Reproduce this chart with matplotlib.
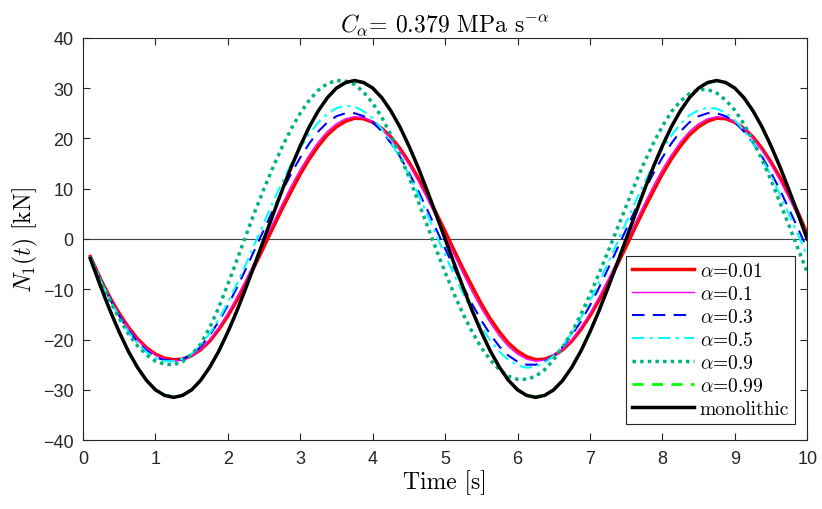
import numpy as np
import matplotlib
matplotlib.use("Agg")
import matplotlib.pyplot as plt

plt.rcParams['mathtext.fontset'] = 'cm'
plt.rcParams['font.family'] = ['Liberation Sans', 'DejaVu Sans']

# time samples [s]
t = [0.1, 0.25, 0.375, 0.5, 0.625, 0.75, 0.875, 1.0, 1.125, 1.25,
     1.375, 1.5, 1.625, 1.75, 1.875, 2.0, 2.125, 2.25, 2.375, 2.5,
     2.625, 2.75, 2.875, 3.0, 3.125, 3.25, 3.375, 3.5, 3.625, 3.75,
     3.875, 4.0, 4.125, 4.25, 4.375, 4.5, 4.625, 4.75, 4.875, 5.0,
     5.125, 5.25, 5.375, 5.5, 5.625, 5.75, 5.875, 6.0, 6.125, 6.25,
     6.375, 6.5, 6.625, 6.75, 6.875, 7.0, 7.125, 7.25, 7.375, 7.5,
     7.625, 7.75, 7.875, 8.0, 8.125, 8.25, 8.375, 8.5, 8.625, 8.75,
     8.875, 9.0, 9.125, 9.25, 9.375, 9.5, 9.625, 9.75, 9.875, 10.0]

# N1(t) [kN]
n_a001 = [-3.5, -8.2, -11.7, -14.8, -17.5, -19.8, -21.6, -22.9, -23.7, -24.0,
          -23.9, -23.2, -22.0, -20.3, -18.0, -15.3, -12.2, -8.8, -5.2, -1.5,
          2.3, 6.0, 9.5, 12.9, 15.9, 18.5, 20.7, 22.3, 23.4, 24.0,
          23.9, 23.2, 22.0, 20.3, 18.0, 15.3, 12.2, 8.8, 5.2, 1.5,
          -2.3, -6.0, -9.5, -12.9, -15.9, -18.5, -20.7, -22.3, -23.4, -24.0,
          -23.9, -23.2, -22.0, -20.3, -18.0, -15.3, -12.2, -8.8, -5.2, -1.5,
          2.3, 6.0, 9.5, 12.9, 15.9, 18.5, 20.7, 22.3, 23.4, 24.0,
          23.9, 23.2, 22.0, 20.3, 18.0, 15.3, 12.2, 8.8, 5.2, 1.0]
n_a01 = [-3.5, -8.3, -11.9, -15.0, -17.7, -20.0, -21.8, -23.1, -23.9, -24.3,
         -24.1, -23.3, -21.9, -20.0, -17.6, -14.8, -11.6, -8.1, -4.4, -0.6,
         3.2, 6.9, 10.5, 13.8, 16.7, 19.3, 21.4, 22.9, 23.9, 24.3,
         24.1, 23.3, 21.9, 20.0, 17.6, 14.8, 11.6, 8.1, 4.4, 0.6,
         -3.2, -6.9, -10.5, -13.8, -16.7, -19.3, -21.4, -22.9, -23.9, -24.3,
         -24.1, -23.3, -21.9, -20.0, -17.6, -14.8, -11.6, -8.1, -4.4, -0.6,
         3.2, 6.9, 10.5, 13.8, 16.7, 19.3, 21.4, 22.9, 23.9, 24.3,
         24.1, 23.3, 21.9, 20.0, 17.6, 14.8, 11.6, 8.1, 4.4, 0.6]
n_a03 = [-3.5, -8.4, -12.0, -15.3, -18.1, -20.4, -22.2, -23.5, -24.1, -24.2,
         -23.9, -23.0, -21.4, -19.1, -16.4, -13.2, -9.7, -5.9, -2.0, 1.9,
         5.8, 9.5, 13.0, 16.2, 19.0, 21.4, 23.2, 24.4, 25.0, 25.0,
         24.4, 23.2, 21.4, 19.1, 16.4, 13.2, 9.7, 5.9, 2.0, -1.9,
         -5.8, -9.5, -13.0, -16.2, -19.0, -21.4, -23.2, -24.4, -25.0, -25.0,
         -24.4, -23.2, -21.4, -19.1, -16.4, -13.2, -9.7, -5.9, -2.0, 1.9,
         5.8, 9.5, 13.0, 16.2, 19.0, 21.4, 23.2, 24.4, 25.0, 25.0,
         24.4, 23.2, 21.4, 19.1, 16.4, 13.2, 9.7, 5.9, 2.0, -1.9]
n_a05 = [-3.5, -8.5, -12.2, -15.5, -18.4, -20.7, -22.5, -23.7, -24.3, -24.3,
         -23.8, -22.8, -21.0, -18.8, -16.0, -12.6, -8.9, -5.0, -0.8, 3.3,
         7.4, 11.3, 14.9, 18.1, 20.9, 23.2, 24.9, 26.0, 26.5, 26.3,
         25.4, 24.0, 21.9, 19.3, 16.2, 12.8, 9.0, 5.0, 0.8, -3.2,
         -7.1, -10.9, -14.4, -17.5, -20.2, -22.4, -24.1, -25.1, -25.6, -25.4,
         -24.6, -23.2, -21.2, -18.7, -15.7, -12.3, -8.7, -4.8, -0.8, 3.3,
         7.3, 11.1, 14.7, 17.9, 20.6, 22.9, 24.6, 25.6, 26.1, 25.9,
         25.1, 23.6, 21.6, 19.0, 16.0, 12.6, 8.8, 4.9, 0.8, -3.3]
n_a09 = [-3.5, -8.6, -12.4, -15.8, -18.8, -21.2, -23.0, -24.3, -24.9, -25.0,
         -24.4, -23.0, -20.9, -17.6, -13.6, -9.0, -4.2, 0.7, 5.5, 10.0,
         14.3, 18.3, 21.9, 25.0, 27.6, 29.6, 30.9, 31.5, 31.4, 30.7,
         29.2, 27.0, 24.2, 20.7, 16.7, 12.3, 7.6, 2.8, -2.0, -6.6,
         -11.0, -15.0, -18.5, -21.6, -24.1, -26.0, -27.3, -27.9, -27.9, -27.3,
         -26.0, -24.0, -21.5, -18.5, -15.0, -11.1, -6.9, -2.5, 2.0, 6.5,
         11.0, 15.2, 19.0, 22.4, 25.3, 27.4, 28.9, 29.7, 29.7, 29.0,
         27.6, 25.6, 22.9, 19.6, 15.8, 11.7, 7.2, 2.6, -2.0, -6.6]
n_a099 = [-3.9, -9.8, -14.4, -18.6, -22.4, -25.5, -28.1, -29.9, -31.0, -31.4,
          -31.0, -29.9, -28.0, -25.4, -22.2, -18.4, -14.2, -9.6, -4.8, 0.1,
          5.0, 9.8, 14.4, 18.6, 22.4, 25.5, 28.1, 29.9, 31.0, 31.4,
          31.0, 29.9, 28.0, 25.4, 22.2, 18.4, 14.2, 9.6, 4.8, -0.1,
          -5.0, -9.8, -14.4, -18.6, -22.4, -25.5, -28.1, -29.9, -31.0, -31.4,
          -31.0, -29.9, -28.0, -25.4, -22.2, -18.4, -14.2, -9.6, -4.8, 0.1,
          5.0, 9.8, 14.4, 18.6, 22.4, 25.5, 28.1, 29.9, 31.0, 31.4,
          31.0, 29.9, 28.0, 25.4, 22.2, 18.4, 14.2, 9.6, 4.8, -0.1]
n_mono = [-3.9, -9.7, -14.3, -18.5, -22.3, -25.5, -28.1, -30.0, -31.1, -31.5,
          -31.1, -30.0, -28.1, -25.5, -22.3, -18.5, -14.3, -9.7, -4.9, 0.0,
          4.9, 9.7, 14.3, 18.5, 22.3, 25.5, 28.1, 30.0, 31.1, 31.5,
          31.1, 30.0, 28.1, 25.5, 22.3, 18.5, 14.3, 9.7, 4.9, 0.0,
          -4.9, -9.7, -14.3, -18.5, -22.3, -25.5, -28.1, -30.0, -31.1, -31.5,
          -31.1, -30.0, -28.1, -25.5, -22.3, -18.5, -14.3, -9.7, -4.9, 0.0,
          4.9, 9.7, 14.3, 18.5, 22.3, 25.5, 28.1, 30.0, 31.1, 31.5,
          31.1, 30.0, 28.1, 25.5, 22.3, 18.5, 14.3, 9.7, 4.9, 0.0]

labels = [r'$\alpha$=0.01', r'$\alpha$=0.1', r'$\alpha$=0.3', r'$\alpha$=0.5',
          r'$\alpha$=0.9', r'$\alpha$=0.99', 'monolithic']

fig = plt.figure(figsize=(8.22, 5.10), dpi=100)
ax = fig.add_axes([0.101, 0.135, 0.881, 0.789])

# zero line
ax.axhline(0, color='#404040', lw=0.8, zorder=1)

ax.plot(t, n_a001, color='#ff0000', lw=2.5, label=labels[0])
ax.plot(t, n_a01, color='#ff00ff', lw=1.0, label=labels[1])
ax.plot(t, n_a03, color='#0000ff', lw=1.5, ls=(0, (6, 4)), label=labels[2])
ax.plot(t, n_a05, color='#00ffff', lw=1.5, ls=(0, (6, 2.5, 1.5, 2.5)), label=labels[3])
ax.plot(t, n_a09, color='#00b380', lw=2.5, ls=(0, (1, 1.2)), label=labels[4])
ax.plot(t, n_a099, color='#00ff00', lw=2.0, ls=(0, (4, 3)), label=labels[5])
ax.plot(t, n_mono, color='black', lw=2.5, label=labels[6])

ax.set_xlim(0, 10)
ax.set_ylim(-40, 40)
ax.set_xticks(np.arange(0, 11, 1))
ax.set_yticks(np.arange(-40, 41, 10))
ax.tick_params(direction='in', length=5, width=0.8, top=True, right=True,
               labelsize=13, colors='#262626', pad=7)
for s in ax.spines.values():
    s.set_color('#262626')
    s.set_linewidth(0.8)

ax.set_title(r'$C_\alpha$= 0.379 MPa s$^{-\alpha}$', fontfamily='cmr10', fontsize=17, pad=5)
ax.set_xlabel('Time [s]', fontfamily='cmr10', fontsize=17, labelpad=2)
ax.set_ylabel(r'$N_1(t)$ [kN]', fontfamily='cmr10', fontsize=17, labelpad=2)

leg = ax.legend(loc='lower right', bbox_to_anchor=(0.983, 0.040), borderaxespad=0,
                prop={'family': 'cmr10', 'size': 14}, handlelength=3.2,
                fancybox=False, framealpha=1, edgecolor='#262626',
                labelspacing=0.26, handletextpad=0.3, borderpad=0.3)
leg.get_frame().set_linewidth(0.8)

fig.savefig('out.png', dpi=100)
